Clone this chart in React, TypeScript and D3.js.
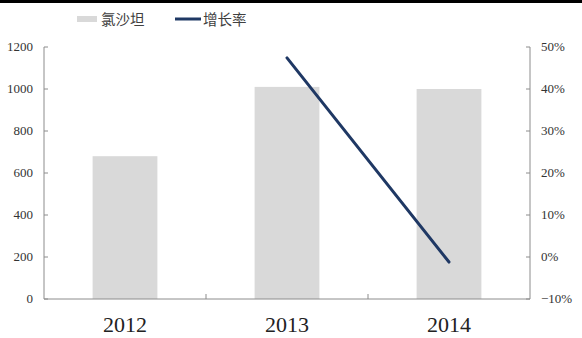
import React from "react";
import * as d3 from "d3";

const categories = ["2012", "2013", "2014"];
const barValues = [680, 1010, 1000];
const growthValues: (number | null)[] = [null, 0.474, -0.012];
const leftTicks = [0, 200, 400, 600, 800, 1000, 1200];
const rightTicks = [-0.1, 0, 0.1, 0.2, 0.3, 0.4, 0.5];
const barName = "氯沙坦";
const lineName = "增长率";

const W = 582, H = 338;
const M = { left: 44, right: 530, top: 47, bottom: 299 };

export default function App() {
  const x = d3.scaleBand<string>().domain(categories).range([M.left, M.right]).paddingInner(0).paddingOuter(0);
  const bw = x.bandwidth() * 0.4;
  const yL = d3.scaleLinear().domain([0, 1200]).range([M.bottom, M.top]);
  const yR = d3.scaleLinear().domain([-0.1, 0.5]).range([M.bottom, M.top]);
  const lineData = categories.map((c, i) => ({ c, v: growthValues[i] })).filter(d => d.v !== null) as { c: string; v: number }[];
  const line = d3.line<{ c: string; v: number }>().x(d => (x(d.c) as number) + x.bandwidth() / 2).y(d => yR(d.v));
  const axisColor = "#8c8c8c";
  const font = "'Liberation Serif', 'DejaVu Serif', serif";
  const cjk = "'Noto Sans CJK SC', sans-serif";
  return (
    <svg width={W} height={H} style={{ position: "absolute", left: 0, top: 0 }}>
      <rect x={0} y={0} width={W} height={H} fill="#fff" />
      <line x1={0} x2={W} y1={1.5} y2={1.5} stroke="#000" strokeWidth={3} />
      {/* legend */}
      <rect x={77} y={16} width={20} height={6} fill="#d9d9d9" />
      <text x={101} y={24.5} fontSize={14.5} fontFamily={cjk} fill="#404040">{barName}</text>
      <line x1={175} x2={201} y1={19} y2={19} stroke="#1f3864" strokeWidth={3} />
      <text x={203} y={24.5} fontSize={14.5} fontFamily={cjk} fill="#404040">{lineName}</text>
      {/* bars */}
      {categories.map((c, i) => (
        <rect key={c} x={(x(c) as number) + (x.bandwidth() - bw) / 2} y={yL(barValues[i])} width={bw} height={M.bottom - yL(barValues[i])} fill="#d9d9d9" />
      ))}
      {/* axes */}
      <line x1={M.left} x2={M.left} y1={M.top} y2={M.bottom} stroke={axisColor} />
      <line x1={M.right} x2={M.right} y1={M.top} y2={M.bottom} stroke={axisColor} />
      <line x1={M.left} x2={M.right} y1={M.bottom} y2={M.bottom} stroke={axisColor} />
      {leftTicks.map(t => (
        <g key={t}>
          <line x1={M.left} x2={M.left + 4} y1={yL(t)} y2={yL(t)} stroke={axisColor} />
          <text x={33} y={yL(t) + 4} fontSize={13} textAnchor="end" fontFamily={font} fill="#333">{t}</text>
        </g>
      ))}
      {rightTicks.map(t => (
        <g key={t}>
          <line x1={M.right - 4} x2={M.right} y1={yR(t)} y2={yR(t)} stroke={axisColor} />
          <text x={541} y={yR(t) + 4} fontSize={13} fontFamily={font} fill="#333">{t < 0 ? "\u2212" : ""}{Math.round(Math.abs(t) * 100)}%</text>
        </g>
      ))}
      {categories.slice(1).map(c => (
        <line key={c} x1={x(c) as number} x2={x(c) as number} y1={M.bottom} y2={M.bottom - 5} stroke={axisColor} />
      ))}
      {categories.map(c => (
        <text key={c} x={(x(c) as number) + x.bandwidth() / 2} y={332} fontSize={22} textAnchor="middle" fontFamily={font} fill="#222">{c}</text>
      ))}
      <path d={line(lineData) || ""} fill="none" stroke="#1f3864" strokeWidth={3} strokeLinecap="round" />
    </svg>
  );
}
